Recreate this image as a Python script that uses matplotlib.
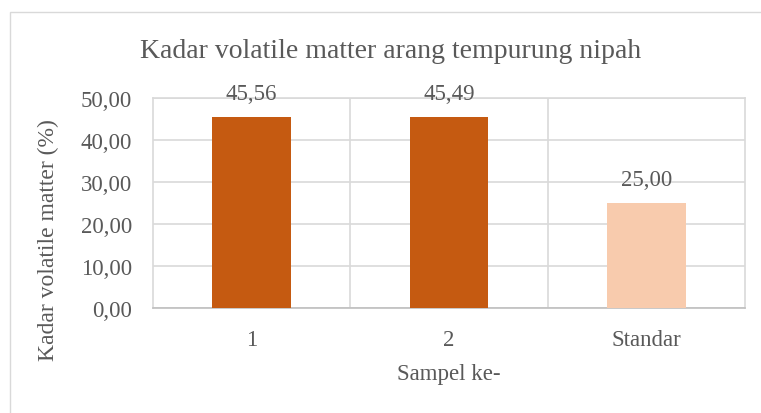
import matplotlib
matplotlib.use("Agg")
import matplotlib.pyplot as plt
from matplotlib.patches import Rectangle

categories = ["1", "2", "Standar"]
values = [45.56, 45.49, 25.00]
bar_colors = ["#C55A11", "#C55A11", "#F8CBAD"]
yticks = [0, 10, 20, 30, 40, 50]

title = "Kadar volatile matter arang tempurung nipah"
xlabel = "Sampel ke-"
ylabel = "Kadar volatile matter (%)"

plt.rcParams['font.family'] = ['Liberation Serif', 'DejaVu Serif']
txt = "#595959"

W, H = 761, 414
fig = plt.figure(figsize=(W/100, H/100), dpi=100)
fig.patch.set_facecolor("white")

# chart border
fig.patches.append(Rectangle((10/W, -0.1), 1.2, 1 - 13/H + 0.1, transform=fig.transFigure,
                             fill=False, edgecolor="#D9D9D9", linewidth=1.0))

ax = fig.add_axes([153/W, 1 - 309/H, (745-153)/W, (309-99)/H])
x = list(range(len(categories)))
ax.bar(x, values, width=0.4, color=bar_colors, zorder=3)

ax.set_xlim(-0.5, 2.5)
ax.set_ylim(0, 50)
ax.set_yticks(yticks)
ax.set_yticklabels([f"{v:.2f}".replace(".", ",") for v in yticks], fontsize=16.5, color=txt)
ax.set_xticks(x)
ax.set_xticklabels(categories, fontsize=16.5, color=txt)
ax.tick_params(axis="both", length=0)
ax.tick_params(axis="y", pad=15)
ax.tick_params(axis="x", pad=15)

ax.grid(axis="y", color="#D9D9D9", linewidth=1.2, zorder=0)
for xv in [0.5, 1.5]:
    ax.axvline(xv, color="#D9D9D9", linewidth=1.2, zorder=0)
for s in ["left", "right", "top"]:
    ax.spines[s].set_color("#D9D9D9")
    ax.spines[s].set_linewidth(1.2)
ax.spines["bottom"].set_color("#BFBFBF")
ax.spines["bottom"].set_linewidth(1.2)

for xi, v in zip(x, values):
    ax.annotate(f"{v:.2f}".replace(".", ","), (xi, v), xytext=(0, 17), textcoords="offset points",
                ha="center", va="center", fontsize=16.5, color=txt)

fig.text(449/W, 1 - 375/H, xlabel, ha="center", va="center", fontsize=16.5, color=txt)
fig.text(48/W, 1 - 240/H, ylabel, ha="center", va="center", rotation=90, fontsize=17, color=txt)
fig.text(391/W, 1 - 52/H, title, ha="center", va="center", fontsize=20, color=txt)

fig.savefig("out.png", dpi=100)
